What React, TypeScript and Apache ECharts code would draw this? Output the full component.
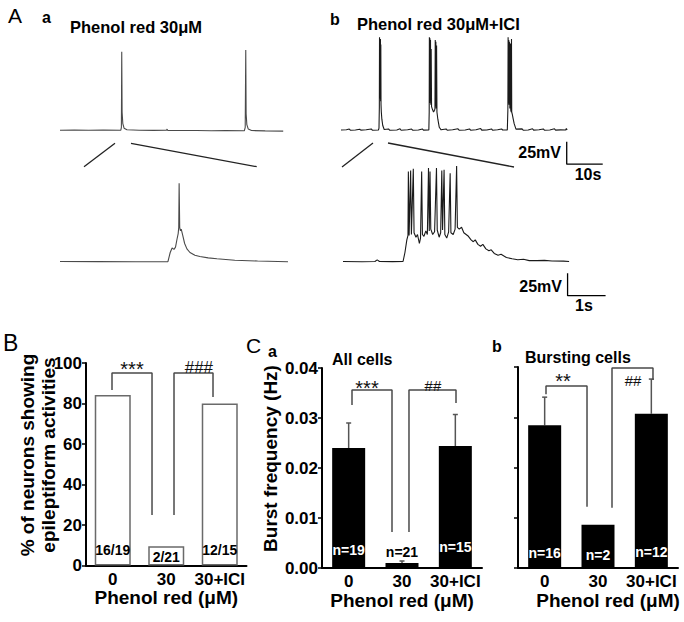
import { useEffect, useRef } from "react";
import * as echarts from "echarts";

const FONT = "'Liberation Sans', Arial, Helvetica, sans-serif";

// ---------- Panel A traces (time in s, membrane potential in mV) ----------
const traceOverviewA: number[][] = [
  [0, -60.2], [4, -60], [8, -60.3], [12, -60.1], [16.9, -60.2], [17.05, -57], [17.15, 27], [17.25, -40],
  [17.45, -53], [17.8, -58], [18.6, -59.8], [22, -60.2], [26, -60.4], [29.6, -60.3], [29.75, -59],
  [29.9, -60.4], [34, -60.6], [38, -60.5], [42, -60.8], [46, -60.7], [51.2, -60.9], [51.45, -57],
  [51.6, 29], [51.7, -42], [51.9, -54], [52.3, -59], [53.2, -60.6], [57, -61], [62, -61.2],
];

const traceOverviewB: number[][] = [
  [0, -60], [1.5, -59.8], [2.3, -58.9], [2.6, -60.2], [4, -60], [5.2, -59.1], [5.5, -60.1], [7, -59.8],
  [8.4, -58.8], [8.7, -60.2], [10.4, -60],
  [10.55, -58], [10.65, -35], [10.7, 43], [10.75, -25], [10.82, 40], [10.88, -20], [10.95, 41], [11.0, -28],
  [11.06, 35], [11.12, -32], [11.2, -40], [11.35, -48], [11.6, -55], [12, -59.5],
  [13.2, -58.8], [13.5, -60.2], [15.5, -60], [16.4, -58.7], [16.7, -60.3], [18.5, -59.7], [19.6, -58.9],
  [19.9, -60.2], [21.5, -60], [22.6, -58.8], [22.9, -60.1], [24.4, -60],
  [24.5, -40], [24.55, 43], [24.62, -30], [24.7, 42], [24.78, -28], [24.86, 40], [24.95, -32], [25.05, 30],
  [25.15, -34], [25.4, -37], [25.7, -40], [26.0, -38], [26.1, -36], [26.18, 40], [26.25, -34], [26.35, 38],
  [26.45, -36], [26.55, 34], [26.65, -40], [26.9, -48], [27.3, -57], [27.8, -59.8],
  [29.2, -58.8], [29.5, -60.2], [31, -59.8], [32.5, -58.7], [32.8, -60.2], [34.5, -60], [35.7, -58.8],
  [36, -60.2], [37.5, -59.8], [38.8, -58.4], [39.1, -60.1], [40.5, -60], [41.8, -58.8], [42.1, -60.2],
  [43.5, -59.8], [44.6, -58.8], [44.9, -60], [46.2, -60],
  [46.35, -38], [46.42, 43], [46.5, -30], [46.6, 40], [46.68, -32], [46.78, 38], [46.9, -36], [47.05, 36],
  [47.15, -38], [47.3, -40], [47.36, 41], [47.42, -40], [47.6, -43], [47.8, -47], [48.1, -53], [48.6, -59],
  [50.3, -58.8], [50.6, -60.2], [52, -60], [53.2, -58.6], [53.5, -60.1], [55, -59.8], [56.2, -58.8],
  [56.5, -60.2], [58, -60], [59.3, -58.7], [59.6, -60.1], [61, -59.9], [62.4, -60], [62.6, -58.2], [62.8, -60],
];

const traceZoomA: number[][] = [
  [0, -60], [1, -60.1], [2, -60.2], [2.84, -60.2], [2.9, -50], [2.95, -45], [3.0, -46.5], [3.04, -44],
  [3.08, -35], [3.11, -29], [3.125, -22], [3.135, 27], [3.15, -22], [3.17, -26], [3.19, -24], [3.23, -31],
  [3.28, -40], [3.34, -46], [3.42, -50], [3.55, -53], [3.68, -54.5], [3.9, -56], [4.13, -57], [4.6, -58.6],
  [5.2, -59.5], [6, -60.3],
];

const traceZoomB: number[][] = [
  [0, -60], [0.5, -60.2], [0.84, -60], [0.9, -58.2], [0.96, -60], [1.3, -60.1], [1.58, -60], [1.63, -50],
  [1.68, -36], [1.71, -31], [1.72, 40], [1.74, -31], [1.78, 41], [1.8, -30], [1.85, 43], [1.87, -28],
  [1.92, -33], [1.96, -30], [2.01, -40], [2.04, -34], [2.07, 40], [2.09, -30], [2.13, -32], [2.18, -26],
  [2.22, -30], [2.25, 44], [2.27, -26], [2.29, 40], [2.31, -24], [2.36, -30], [2.41, -27], [2.46, 44],
  [2.48, -25], [2.53, -33], [2.57, -28], [2.6, 41], [2.62, -25], [2.66, 42], [2.68, -30], [2.73, -34],
  [2.78, -27], [2.82, 38], [2.84, -28], [2.9, -30], [2.95, -24], [2.99, 46], [3.01, -22], [3.06, -24],
  [3.12, -22], [3.18, -28], [3.24, -30], [3.3, -32], [3.37, -36], [3.43, -38], [3.48, -36], [3.55, -41],
  [3.62, -43], [3.68, -41], [3.76, -46], [3.84, -48], [3.9, -47], [3.98, -51], [4.08, -53], [4.16, -52],
  [4.3, -55.5], [4.45, -57], [4.6, -58], [4.75, -57.5], [4.9, -59], [5.1, -59], [5.3, -58.8], [5.5, -59.5],
  [5.8, -59.6], [5.95, -60],
];

// scale bars: 25 mV vertical, 10 s / 1 s horizontal
const scaleBarSlow: number[][] = [[62.7, -73], [62.7, -98], [72.7, -98]];
const scaleBarFast: number[][] = [[5.91, -73], [5.91, -98], [6.91, -98]];

// ---------- Panels B & C ----------
const categories = ["0", "30", "30+ICI"];
const pctNeurons = [84.2, 9.5, 80];
const pctLabels = ["16/19", "2/21", "12/15"];

const allCellsFreq = [0.024, 0.001, 0.0244];
const allCellsErrTop = [0.029, 0.0014, 0.0307];
const allCellsN = ["n=19", "n=21", "n=15"];

const burstCellsFreq = [0.0284, 0.0086, 0.0307];
const burstCellsErrTop: (number | null)[] = [0.034, null, 0.0376];
const burstCellsN = ["n=16", "n=2", "n=12"];

// significance brackets (x in category units 0..3, y in data units)
const bracketB1 = [[0.486, 86.7], [0.486, 95.1], [1.234, 95.1], [1.234, 24.9]];
const bracketB2 = [[1.645, 24.9], [1.645, 95.1], [2.374, 95.1], [2.374, 83.2]];
const starsB = [{ value: [0.86, 97], name: "***" }, { value: [2.11, 98], name: "###" }];

const bracketCa1 = [[0.5625, 0.0326], [0.5625, 0.0356], [1.3125, 0.0356], [1.3125, 0.0072]];
const bracketCa2 = [[1.631, 0.0072], [1.631, 0.0356], [2.5125, 0.0356], [2.5125, 0.033]];
const starsCa = [{ value: [0.844, 0.0361], name: "***" }, { value: [2.08, 0.0366], name: "##" }];

const bracketCb1 = [[0.525, 0.0346], [0.525, 0.0362], [1.294, 0.0362], [1.294, 0.0122]];
const bracketCb2 = [[1.7625, 0.012], [1.7625, 0.0398], [2.531, 0.0398], [2.531, 0.0374]];
const starsCb = [{ value: [0.844, 0.0372], name: "**" }, { value: [2.156, 0.0373], name: "##" }];

function buildOption(): any {
  const traceGrids = [
    { left: 60, top: 31, width: 223.2, height: 144 },
    { left: 341, top: 31, width: 266.4, height: 144 },
    { left: 60, top: 162.5, width: 228, height: 144 },
    { left: 343, top: 162.5, width: 266, height: 144 },
  ];
  const traceXMax = [62, 74, 6, 7];
  const grids = [
    ...traceGrids,
    { left: 86, top: 363, width: 160.5, height: 202.5 },
    { left: 322, top: 368, width: 160, height: 200 },
    { left: 518, top: 367, width: 160, height: 201 },
  ];

  const xAxes: any[] = traceXMax.map((mx, g) => ({ gridIndex: g, type: "value", min: 0, max: mx, show: false }));
  const yAxes: any[] = traceXMax.map((_, g) => ({ gridIndex: g, type: "value", min: -110, max: 50, show: false }));

  const boldTxt = (size: number) => ({ color: "#000", fontWeight: "bold", fontSize: size, fontFamily: FONT });

  const catAxis = (g: number, namePad: number[] = [0, 0, 0, 0]) => ({
    gridIndex: g,
    type: "category",
    data: categories,
    axisLine: { show: true, onZero: false, lineStyle: { color: "#000", width: 2 } },
    axisTick: { show: false },
    axisLabel: { ...boldTxt(17), margin: 5, interval: 0 },
    name: "Phenol red (\u03bcM)",
    nameLocation: "middle",
    nameGap: 20,
    nameTextStyle: { ...boldTxt(19), padding: namePad },
  });
  const hiddenX = (g: number) => ({ gridIndex: g, type: "value", min: 0, max: 3, show: false });
  const valAxis = (g: number, max: number, interval: number, showLabels: boolean, fmt?: (v: number) => string) => ({
    gridIndex: g,
    type: "value",
    min: 0,
    max,
    interval,
    axisLine: { show: true, onZero: false, lineStyle: { color: "#000", width: 2 } },
    axisTick: { show: true, length: 4, lineStyle: { color: "#000", width: 1.5 } },
    axisLabel: { show: showLabels, ...boldTxt(17), margin: 4, formatter: fmt },
    splitLine: { show: false },
  });

  xAxes.push(catAxis(4), hiddenX(4), catAxis(5), hiddenX(5), catAxis(6, [0, 0, 0, 20]), hiddenX(6));
  yAxes.push(
    valAxis(4, 100, 20, true),
    valAxis(5, 0.04, 0.01, true, (v: number) => v.toFixed(2)),
    valAxis(6, 0.04, 0.01, false),
  );

  const series: any[] = [];
  const traceLine = (g: number, data: number[][], color: string, width = 1.1) => ({
    type: "line",
    xAxisIndex: g,
    yAxisIndex: g,
    data,
    showSymbol: false,
    symbol: "none",
    silent: true,
    lineStyle: { color, width },
  });
  series.push(
    traceLine(0, traceOverviewA, "#4a4a4a"),
    traceLine(1, traceOverviewB, "#1a1a1a"),
    traceLine(2, traceZoomA, "#4a4a4a"),
    traceLine(3, traceZoomB, "#1a1a1a"),
    traceLine(1, scaleBarSlow, "#000", 1.3),
    traceLine(3, scaleBarFast, "#000", 1.3),
  );

  // Panel B bars
  const distB = [8.5, 1.5, 8.5];
  series.push({
    type: "bar",
    xAxisIndex: 4,
    yAxisIndex: 4,
    barWidth: 36,
    data: pctNeurons.map((v, i) => ({ value: v, label: { distance: distB[i] } })),
    itemStyle: { color: "#fff", borderColor: "#6a6a6a", borderWidth: 1.5 },
    label: {
      show: true,
      position: "insideBottom",
      formatter: (p: any) => pctLabels[p.dataIndex],
      ...boldTxt(14),
    },
    silent: true,
  });

  const errSeries = (xi: number, yi: number, vals: number[], tops: (number | null)[]) => ({
    type: "custom",
    xAxisIndex: xi,
    yAxisIndex: yi,
    z: 1,
    silent: true,
    data: vals.map((v, i) => (tops[i] == null ? null : [i, v, tops[i]])).filter((d) => d !== null),
    renderItem: (_p: any, api: any) => {
      const lo = api.coord([api.value(0), api.value(1)]);
      const hi = api.coord([api.value(0), api.value(2)]);
      return {
        type: "group",
        children: [
          { type: "line", shape: { x1: lo[0], y1: lo[1], x2: hi[0], y2: hi[1] }, style: { stroke: "#555", lineWidth: 1.5 } },
          { type: "line", shape: { x1: hi[0] - 2.5, y1: hi[1], x2: hi[0] + 2.5, y2: hi[1] }, style: { stroke: "#555", lineWidth: 1.5 } },
        ],
      };
    },
  });

  // Panel Ca bars
  const distCa = [11, 4, 14];
  series.push({
    type: "bar",
    xAxisIndex: 6,
    yAxisIndex: 5,
    barWidth: 33,
    z: 2,
    data: allCellsFreq.map((v, i) => ({
      value: v,
      label: i === 1 ? { position: "top", color: "#000", distance: distCa[i] } : { distance: distCa[i] },
    })),
    itemStyle: { color: "#000" },
    label: {
      show: true,
      position: "insideBottom",
      formatter: (p: any) => allCellsN[p.dataIndex],
      ...boldTxt(14),
      color: "#fff",
    },
    silent: true,
  });
  series.push(errSeries(6, 5, allCellsFreq, allCellsErrTop));

  // Panel Cb bars
  const distCb = [8, 6, 9];
  series.push({
    type: "bar",
    xAxisIndex: 8,
    yAxisIndex: 6,
    barWidth: 33,
    z: 2,
    data: burstCellsFreq.map((v, i) => ({ value: v, label: { distance: distCb[i] } })),
    itemStyle: { color: "#000" },
    label: {
      show: true,
      position: "insideBottom",
      formatter: (p: any) => burstCellsN[p.dataIndex],
      ...boldTxt(14),
      color: "#fff",
    },
    silent: true,
  });
  series.push(errSeries(8, 6, burstCellsFreq, burstCellsErrTop));

  const bracket = (xi: number, yi: number, data: number[][]) => ({
    type: "line",
    xAxisIndex: xi,
    yAxisIndex: yi,
    data,
    showSymbol: false,
    symbol: "none",
    silent: true,
    z: 5,
    lineStyle: { color: "#4a4a4a", width: 1.5 },
  });
  const stars = (xi: number, yi: number, data: any[], sizes: number[]) => ({
    type: "scatter",
    xAxisIndex: xi,
    yAxisIndex: yi,
    symbolSize: 1,
    silent: true,
    z: 6,
    itemStyle: { color: "rgba(255,255,255,0)" },
    data: data.map((d, i) => ({
      ...d,
      label: { fontSize: sizes[i], color: "#111", opacity: 1 },
    })),
    label: {
      show: true,
      position: "inside",
      formatter: "{b}",
      color: "#111",
      opacity: 1,
      textBorderWidth: 0,
      fontWeight: "normal",
      fontFamily: FONT,
    },
  });
  series.push(
    bracket(5, 4, bracketB1),
    bracket(5, 4, bracketB2),
    stars(5, 4, starsB, [20, 17]),
    bracket(7, 5, bracketCa1),
    bracket(7, 5, bracketCa2),
    stars(7, 5, starsCa, [20, 15]),
    bracket(9, 6, bracketCb1),
    bracket(9, 6, bracketCb2),
    stars(9, 6, starsCb, [20, 15]),
  );

  const txt = (text: string, x: number, y: number, size: number, weight = "bold", align = "left", rotation = 0, lineHeight?: number) => ({
    type: "text",
    x,
    y,
    rotation,
    silent: true,
    style: {
      text,
      fill: "#000",
      fontSize: size,
      fontWeight: weight,
      fontFamily: FONT,
      align,
      verticalAlign: "middle",
      textAlign: align,
      textVerticalAlign: "middle",
      lineHeight,
    },
  });
  const seg = (x1: number, y1: number, x2: number, y2: number) => ({
    type: "line",
    silent: true,
    shape: { x1, y1, x2, y2 },
    style: { stroke: "#222", lineWidth: 1.3 },
  });

  const graphic = [
    txt("A", 8, 15, 21, "normal"),
    txt("a", 42, 17.5, 16),
    txt("Phenol red 30\u03bcM", 70, 27, 16.5),
    txt("b", 330, 19, 16),
    txt("Phenol red 30\u03bcM+ICI", 357, 23.5, 16.5),
    seg(84, 166.7, 115, 143.3),
    seg(131, 143.3, 256.7, 166.7),
    seg(342, 167, 373, 143),
    seg(388, 143, 514, 167),
    txt("25mV", 561, 152.5, 16, "bold", "right"),
    txt("10s", 588, 174, 16, "bold", "center"),
    txt("25mV", 562, 286, 16, "bold", "right"),
    txt("1s", 584, 305, 16, "bold", "center"),
    txt("B", 3, 343, 23, "normal"),
    txt("% of neurons showing\nepileptiform activities", 38, 455, 19, "bold", "center", Math.PI / 2, 21),
    txt("C", 246, 345, 21, "normal"),
    txt("a", 268, 351.5, 16),
    txt("All cells", 332, 359, 16),
    txt("Burst frequency (Hz)", 270, 458.5, 19, "bold", "center", Math.PI / 2),
    txt("b", 492, 346, 16),
    txt("Bursting cells", 525, 357.5, 16),
  ];

  return {
    animation: false,
    backgroundColor: "#fff",
    grid: grids,
    xAxis: xAxes,
    yAxis: yAxes,
    series,
    graphic,
  };
}

export default function App() {
  const ref = useRef<HTMLDivElement>(null);
  useEffect(() => {
    const chart = echarts.init(ref.current!, null, { renderer: "svg" });
    chart.setOption(buildOption());
    return () => chart.dispose();
  }, []);
  return (
    <div
      ref={ref}
      style={{ position: "fixed", left: 0, top: 0, width: 684, height: 622, background: "#fff" }}
    />
  );
}
